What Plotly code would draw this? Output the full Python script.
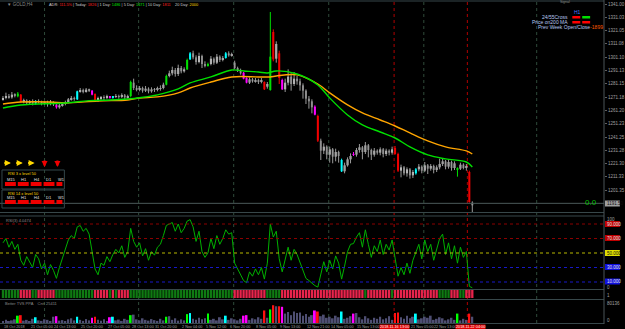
import plotly.graph_objects as go

# ---------------- data ----------------
opens = [1269.5, 1270.5, 1272.0, 1271.0, 1273.0, 1271.8, 1273.0, 1267.5, 1268.5, 1267.0,
         1268.0, 1266.5, 1268.0, 1267.5, 1266.5, 1267.0, 1266.0, 1267.5, 1265.5, 1263.5,
         1265.0, 1266.0, 1267.5, 1269.5, 1270.5, 1269.5, 1275.5, 1276.5, 1275.5, 1276.8,
         1276.0, 1273.5, 1269.0, 1270.0, 1271.0, 1270.5, 1271.5, 1270.5, 1271.5, 1272.0,
         1271.5, 1272.5, 1271.0, 1272.0, 1282.0, 1278.0, 1277.0, 1278.0, 1276.0, 1277.5,
         1275.5, 1277.0, 1276.5, 1277.5, 1278.0, 1280.5, 1287.0, 1289.0, 1291.5, 1288.5,
         1293.0, 1290.5, 1292.0, 1299.5, 1304.0, 1301.0, 1297.5, 1302.0, 1296.0, 1294.5,
         1296.0, 1300.0, 1297.0, 1301.5, 1299.0, 1300.5, 1304.0, 1302.5, 1297.0, 1293.0,
         1291.0, 1289.5, 1285.5, 1282.0, 1284.5, 1283.0, 1284.0, 1282.5, 1282.5, 1279.0,
         1276.5, 1320.0, 1300.0, 1304.0, 1284.0, 1277.0, 1282.0, 1286.5, 1281.0, 1285.0,
         1283.0, 1280.0, 1276.0, 1270.0, 1268.0, 1264.0, 1257.0, 1238.5, 1231.0, 1234.0,
         1228.0, 1232.0, 1226.5, 1230.0, 1224.0, 1215.5, 1220.0, 1224.5, 1228.5, 1228.0,
         1231.5, 1233.5, 1230.0, 1235.0, 1231.5, 1228.0, 1231.0, 1229.5, 1232.0, 1228.5,
         1231.0, 1229.5, 1233.0, 1228.5, 1216.0, 1218.5, 1214.0, 1217.0, 1212.5, 1214.0,
         1217.0, 1219.0, 1216.0, 1220.0, 1217.5, 1219.5, 1216.5, 1218.5, 1221.0, 1223.0,
         1219.0, 1222.5, 1218.0, 1216.5, 1217.5, 1220.5, 1218.0, 1215.0, 1192.0]
highs = [1272.0, 1274.5, 1273.5, 1275.0, 1274.0, 1275.0, 1273.5, 1270.0, 1269.5, 1269.0,
         1269.5, 1269.0, 1269.5, 1268.5, 1268.0, 1268.5, 1269.0, 1268.0, 1266.0, 1266.0,
         1267.5, 1268.5, 1270.5, 1272.0, 1271.5, 1276.0, 1278.0, 1277.5, 1278.0, 1277.5,
         1276.5, 1274.0, 1271.5, 1272.0, 1272.5, 1273.0, 1272.0, 1272.0, 1273.5, 1273.0,
         1274.0, 1273.5, 1273.0, 1283.5, 1285.0, 1280.0, 1279.5, 1279.0, 1279.5, 1278.5,
         1278.5, 1278.0, 1279.0, 1280.0, 1282.0, 1288.0, 1291.0, 1294.0, 1293.0, 1295.5,
         1294.5, 1293.5, 1300.0, 1305.0, 1306.0, 1302.5, 1304.5, 1303.0, 1298.0, 1297.0,
         1302.0, 1301.0, 1303.5, 1302.5, 1302.0, 1305.0, 1305.5, 1304.5, 1298.5, 1294.0,
         1292.5, 1290.0, 1286.0, 1286.0, 1285.5, 1285.5, 1285.0, 1285.5, 1283.0, 1282.5,
         1335.0, 1322.0, 1313.0, 1306.0, 1285.0, 1285.0, 1292.0, 1289.0, 1290.0, 1287.0,
         1285.0, 1281.5, 1277.0, 1272.0, 1269.5, 1265.0, 1258.0, 1240.0, 1236.5, 1235.0,
         1234.0, 1233.0, 1232.5, 1231.0, 1225.0, 1222.0, 1226.0, 1229.0, 1230.0, 1233.0,
         1236.0, 1234.5, 1237.5, 1236.0, 1232.5, 1233.0, 1232.0, 1233.5, 1233.0, 1232.5,
         1232.0, 1234.0, 1234.5, 1229.5, 1220.5, 1219.5, 1218.5, 1218.0, 1216.5, 1218.0,
         1221.0, 1220.0, 1222.5, 1221.0, 1221.0, 1220.5, 1220.0, 1225.0, 1225.0, 1224.0,
         1224.5, 1223.5, 1223.0, 1218.5, 1222.0, 1221.5, 1221.0, 1216.0, 1193.0]
lows = [1268.5, 1269.5, 1270.0, 1270.0, 1271.0, 1271.0, 1267.0, 1266.5, 1266.0, 1265.5,
        1265.0, 1265.5, 1266.5, 1265.0, 1265.5, 1264.0, 1265.0, 1264.5, 1262.5, 1262.5,
        1264.0, 1265.0, 1266.5, 1268.5, 1268.5, 1269.0, 1274.5, 1274.0, 1274.5, 1275.0,
        1272.5, 1268.5, 1267.5, 1269.0, 1269.0, 1269.5, 1270.0, 1270.0, 1270.5, 1270.0,
        1270.5, 1269.5, 1270.0, 1271.0, 1276.5, 1275.5, 1275.5, 1274.5, 1275.0, 1274.0,
        1274.5, 1275.0, 1275.5, 1276.0, 1277.0, 1280.0, 1286.0, 1287.5, 1286.5, 1287.0,
        1289.0, 1289.5, 1291.5, 1299.0, 1299.5, 1295.5, 1296.5, 1293.0, 1293.5, 1294.0,
        1295.0, 1295.5, 1296.0, 1297.5, 1298.0, 1300.0, 1301.5, 1301.5, 1292.0, 1290.0,
        1288.0, 1284.5, 1281.5, 1281.0, 1282.0, 1282.0, 1281.0, 1281.5, 1276.5, 1277.5,
        1276.0, 1298.0, 1297.0, 1281.0, 1276.5, 1275.0, 1280.0, 1276.0, 1279.5, 1280.5,
        1276.0, 1270.0, 1266.0, 1262.5, 1259.0, 1257.5, 1237.5, 1224.0, 1228.5, 1224.5,
        1222.0, 1221.5, 1223.0, 1222.0, 1215.0, 1214.0, 1219.0, 1221.5, 1227.0, 1226.5,
        1229.5, 1224.5, 1228.5, 1226.0, 1224.0, 1226.5, 1228.0, 1227.5, 1226.0, 1227.0,
        1227.5, 1228.0, 1228.0, 1215.0, 1211.0, 1212.5, 1211.5, 1210.0, 1210.5, 1213.0,
        1215.5, 1214.0, 1215.0, 1213.5, 1216.0, 1214.0, 1215.0, 1217.0, 1219.5, 1217.0,
        1217.5, 1216.0, 1216.5, 1211.5, 1216.5, 1217.0, 1216.0, 1192.0, 1184.5]
closes = [1270.5, 1272.0, 1271.0, 1273.0, 1272.0, 1273.8, 1267.5, 1268.5, 1267.0, 1268.0,
          1266.5, 1268.0, 1267.5, 1266.5, 1267.0, 1266.0, 1267.5, 1266.0, 1263.5, 1265.0,
          1266.0, 1267.5, 1269.5, 1270.5, 1270.0, 1275.5, 1276.5, 1275.5, 1276.8, 1276.0,
          1273.0, 1269.0, 1270.0, 1271.0, 1270.5, 1271.5, 1270.5, 1271.5, 1272.0, 1271.5,
          1272.5, 1271.0, 1272.0, 1282.5, 1278.0, 1277.0, 1278.0, 1276.0, 1277.5, 1275.5,
          1277.0, 1276.5, 1277.5, 1278.0, 1280.5, 1287.0, 1289.0, 1291.5, 1288.5, 1293.0,
          1290.5, 1292.0, 1299.0, 1304.0, 1301.0, 1297.5, 1302.0, 1296.0, 1295.0, 1296.0,
          1300.0, 1297.0, 1301.5, 1299.0, 1300.5, 1304.0, 1302.5, 1303.0, 1293.0, 1291.0,
          1289.0, 1285.0, 1282.0, 1284.5, 1283.0, 1284.0, 1282.5, 1283.5, 1277.0, 1281.0,
          1301.5, 1299.5, 1311.0, 1285.5, 1277.0, 1282.0, 1286.5, 1281.0, 1285.0, 1283.0,
          1280.0, 1276.0, 1270.0, 1268.0, 1263.5, 1258.0, 1238.5, 1231.0, 1234.0, 1228.0,
          1232.0, 1226.5, 1230.0, 1227.0, 1215.5, 1220.0, 1224.5, 1227.0, 1228.0, 1231.5,
          1233.5, 1230.0, 1235.0, 1231.5, 1228.0, 1231.0, 1229.5, 1232.0, 1228.5, 1231.0,
          1229.5, 1232.0, 1228.5, 1216.0, 1218.5, 1214.0, 1217.0, 1212.5, 1215.0, 1217.0,
          1219.0, 1216.0, 1220.0, 1217.5, 1219.5, 1216.5, 1218.5, 1221.0, 1223.0, 1219.0,
          1222.5, 1218.0, 1221.5, 1217.5, 1220.5, 1218.0, 1219.5, 1192.5, 1190.0]

# signal-coloured candles (index, colour code)
signal_idx = [5, 6, 11, 18, 25, 30, 31, 36, 37, 43, 55, 62, 63, 69, 75, 81, 82, 88, 90, 91,
              93, 94, 105, 106, 114, 118, 132, 133, 139, 153, 157]
signal_col = ['g', 'r', 'c', 'm', 'c', 'm', 'r', 'm', 'c', 'g', 'g', 'g', 'c', 'g', 'c', 'm', 'm', 'r', 'g', 'r',
              'r', 'm', 'm', 'r', 'c', 'm', 'r', 'r', 'c', 'g', 'r']

# moving averages (knots at candle index)
ma_green_idx = [0, 6, 21, 29, 36, 42, 46, 52, 59, 63, 70, 77, 81, 86, 89, 92, 99, 106, 110, 116,
                121, 127, 132, 137, 143, 149, 156, 158]
ma_green = [1263.0, 1265.3, 1266.8, 1268.5, 1269.0, 1269.8, 1270.7, 1272.8, 1277.3, 1281.8,
            1286.3, 1291.5, 1290.8, 1290.0, 1289.3, 1290.8, 1288.5, 1280.3, 1270.5, 1257.8,
            1250.3, 1245.0, 1240.5, 1233.8, 1227.8, 1224.8, 1222.5, 1218.8]
ma_orange_idx = [0, 6, 16, 21, 32, 42, 46, 52, 59, 63, 70, 77, 86, 90, 92, 99, 106, 110, 116, 121,
                 127, 132, 137, 143, 149, 156, 158]
ma_orange = [1266.0, 1267.5, 1267.5, 1266.8, 1268.3, 1269.0, 1270.5, 1271.3, 1274.3, 1278.0,
             1282.5, 1286.3, 1286.3, 1286.3, 1287.0, 1287.8, 1281.0, 1274.3, 1265.3, 1259.3,
             1254.0, 1249.5, 1244.3, 1238.3, 1233.8, 1230.8, 1228.5]

rsi = [64, 70, 58, 66, 55, 62, 40, 33, 45, 38,
       30, 48, 42, 28, 36, 20, 34, 26, 15, 30,
       42, 55, 68, 74, 70, 86, 88, 80, 84, 76,
       52, 28, 20, 36, 33, 45, 38, 48, 55, 50,
       60, 44, 52, 84, 66, 58, 64, 46, 56, 40,
       52, 47, 58, 62, 74, 88, 90, 92, 80, 90,
       78, 84, 94, 96, 86, 66, 80, 52, 44, 50,
       70, 56, 74, 62, 70, 82, 76, 78, 36, 28,
       22, 12, 9, 24, 18, 28, 20, 30, 14, 36,
       90, 72, 80, 42, 24, 42, 58, 40, 55, 48,
       36, 26, 15, 12, 8, 5, 3, 22, 38, 24,
       40, 28, 46, 36, 14, 32, 52, 62, 63, 72,
       78, 58, 82, 62, 44, 60, 52, 68, 48, 62,
       54, 68, 44, 18, 30, 20, 36, 22, 40, 50,
       62, 42, 68, 52, 62, 40, 56, 70, 76, 48,
       64, 42, 60, 36, 58, 44, 52, 4, 2]
rsi_levels = [90, 70, 50, 30, 10]

volume = [8000, 12000, 6000, 10000, 14000, 28000, 30000, 9000, 12000, 6000,
          16000, 22000, 10000, 8000, 14000, 12000, 7000, 24000, 26000, 9000,
          11000, 6000, 14000, 18000, 10000, 24000, 12000, 8000, 15000, 10000,
          20000, 24000, 12000, 9000, 14000, 8000, 22000, 24000, 10000, 13000,
          8000, 16000, 12000, 30000, 32000, 14000, 10000, 18000, 12000, 9000,
          15000, 11000, 8000, 16000, 10000, 24000, 26000, 12000, 18000, 9000,
          14000, 10000, 34000, 38000, 16000, 12000, 20000, 14000, 18000, 36000,
          12000, 16000, 10000, 22000, 14000, 28000, 12000, 18000, 14000, 10000,
          16000, 28000, 30000, 12000, 18000, 14000, 22000, 16000, 48000, 20000,
          52000, 68000, 64000, 64000, 62000, 36000, 42000, 30000, 44000, 38000,
          40000, 28000, 34000, 24000, 30000, 48000, 44000, 26000, 32000, 20000,
          24000, 18000, 28000, 22000, 44000, 16000, 20000, 26000, 36000, 38000,
          22000, 14000, 26000, 18000, 12000, 20000, 16000, 24000, 14000, 18000,
          26000, 12000, 38000, 40000, 22000, 16000, 28000, 18000, 24000, 36000,
          14000, 18000, 24000, 20000, 28000, 12000, 16000, 22000, 18000, 10000,
          14000, 20000, 12000, 36000, 10000, 16000, 12000, 36000, 24000]

# trend strip: run-length encoded states
strip_run_state = ['G', 'R', 'G', 'R', 'G', 'R', 'G', 'R', 'G', 'R', 'G',
                   'R', 'G', 'R', 'G', 'R', 'G', 'R', 'G', 'R', 'G', 'R']
strip_run_len = [6, 4, 2, 6, 13, 5, 1, 1, 1, 4, 35, 11, 5, 28, 1, 8, 1, 15, 4, 3, 2, 3]

day_sep = [14, 45.67, 77.67, 109.67, 141.67, 179.67]
red_sep = [131.67, 156.33]
red_sep_label_pos = [131.67, 157.3]
red_sep_labels = ['2018.11.16 13:00', '2018.11.22 04:00']

date_pos = [0, 9, 17, 26, 35, 43, 51, 60, 68, 76, 85, 93, 102, 110, 119, 137, 144.6]
date_labels = ['18 Oct 2018', '21 Oct 05:00', '24 Oct 13:00', '25 Oct 20:00', '27 Oct 05:00',
               '28 Oct 13:00', '31 Oct 20:00', '2 Nov 04:00', '5 Nov 12:00', '6 Nov 20:00',
               '8 Nov 05:00', '9 Nov 13:00', '12 Nov 21:00', '14 Nov 05:00', '15 Nov 13:00',
               '21 Nov 05:00', '22 Nov 13:00']

price_ticks = [1341.00, 1331.03, 1321.05, 1311.08, 1301.10, 1291.13, 1281.15, 1271.18,
               1261.20, 1251.23, 1241.25, 1231.28, 1221.30, 1211.33, 1201.35]
bid_price = 1191.5

# ---------------- build ----------------
FONT = 'Liberation Sans, Arial, sans-serif'
PW, PH = 610.0, 329.0


def fx(x):
    return x / PW


def fy(y):
    return 1 - y / PH


n = len(closes)
idx = list(range(n))
COL = {'g': '#00e000', 'r': '#f00000', 'c': '#00ffff', 'm': '#ff00ff'}
sig = dict(zip(signal_idx, signal_col))

body_base, body_h, body_col = [], [], []
groups = {}
for i in idx:
    o, c = opens[i], closes[i]
    body_base.append(min(o, c))
    body_h.append(max(abs(c - o), 0.45))
    if i in sig:
        body_col.append(COL[sig[i]])
        key = COL[sig[i]]
    else:
        body_col.append('#d4d4d4' if c >= o else '#7e7e7e')
        key = '#9a9a9a'
    gx, gy = groups.setdefault(key, ([], []))
    gx += [i, i, None]
    gy += [lows[i], highs[i], None]

strip_state = []
for s, k in zip(strip_run_state, strip_run_len):
    strip_state += [s] * k
strip_col = ['#0f7a12' if s == 'G' else '#e8244c' for s in strip_state]

vol_col = [{'g': '#00ff00', 'r': '#ff1010', 'c': '#00ffff', 'm': '#ff00ff'}[sig[i]] if i in sig else '#4e4e72'
           for i in idx]

fig = go.Figure()
for color, (gx, gy) in groups.items():
    fig.add_trace(go.Scatter(x=gx, y=gy, mode='lines', line=dict(color=color, width=1),
                             xaxis='x', yaxis='y', hoverinfo='skip'))
fig.add_trace(go.Bar(x=idx, y=body_h, base=body_base, width=0.68,
                     marker=dict(color=body_col, line=dict(width=0)), xaxis='x', yaxis='y'))
fig.add_trace(go.Scatter(x=ma_orange_idx, y=ma_orange, mode='lines',
                         line=dict(color='#ffa500', width=1.4, shape='spline'), xaxis='x', yaxis='y'))
fig.add_trace(go.Scatter(x=ma_green_idx, y=ma_green, mode='lines',
                         line=dict(color='#00e000', width=1.4, shape='spline'), xaxis='x', yaxis='y'))
fig.add_trace(go.Scatter(x=idx, y=rsi, mode='lines', line=dict(color='#00b000', width=1),
                         xaxis='x', yaxis='y2'))
fig.add_trace(go.Bar(x=idx, y=[1] * n, base=0, width=0.78,
                     marker=dict(color=strip_col, line=dict(width=0)), xaxis='x', yaxis='y3'))
fig.add_trace(go.Bar(x=idx, y=volume, width=0.62,
                     marker=dict(color=vol_col, line=dict(width=0)), xaxis='x', yaxis='y4'))

shapes = []
# separators
for s in day_sep:
    shapes.append(dict(type='line', xref='x', yref='paper', x0=s, x1=s, y0=fy(323), y1=fy(1),
                       line=dict(color='#2f4a3a', width=1, dash='dot'), layer='below'))
for s in red_sep:
    shapes.append(dict(type='line', xref='x', yref='paper', x0=s, x1=s, y0=fy(323), y1=fy(1),
                       line=dict(color='#b00000', width=1, dash='dot'), layer='below'))
# panel frame lines
for yy in [1, 212.5, 216, 289.5, 299.5, 323.5]:
    shapes.append(dict(type='line', xref='paper', yref='paper', x0=0, x1=1, y0=fy(yy), y1=fy(yy),
                       line=dict(color='#37474a', width=1)))
shapes.append(dict(type='line', xref='paper', yref='paper', x0=1, x1=1, y0=fy(324), y1=fy(0),
                   line=dict(color='#4a5458', width=1)))
# bid line
shapes.append(dict(type='line', xref='paper', yref='y', x0=0, x1=1, y0=bid_price, y1=bid_price,
                   line=dict(color='#4b5a5a', width=1)))
# rsi levels
lvl_col = ['#8b0000', '#8b0000', '#b8b800', '#1818c8', '#1818c8']
for lv, lc in zip(rsi_levels, lvl_col):
    shapes.append(dict(type='line', xref='paper', yref='y2', x0=0, x1=1, y0=lv, y1=lv,
                       line=dict(color=lc, width=1, dash='dot')))


def rect(x0, x1, y0, y1, fill, line=None):
    d = dict(type='rect', xref='paper', yref='paper', x0=fx(x0), x1=fx(x1), y0=fy(y1), y1=fy(y0),
             fillcolor=fill, line=dict(width=0))
    if line:
        d['line'] = dict(color=line, width=1)
        d['fillcolor'] = 'rgba(0,0,0,0)'
    return d


# left info boxes
shapes.append(rect(2, 65, 170, 189, None, '#33464a'))
shapes.append(rect(2, 65, 190, 208, None, '#33464a'))
for (a, b) in [(5, 16), (18, 29), (31, 42), (44, 55), (57, 63)]:
    shapes.append(rect(a, b, 182, 186, '#f00000'))
    shapes.append(rect(a, b, 200, 204, '#f00000'))
# legend swatches
shapes.append(rect(578, 586, 16, 18.5, '#ff0000'))
shapes.append(rect(588, 596, 16, 18.5, '#00e000'))
shapes.append(rect(578, 586, 21, 23.5, '#ff0000'))
shapes.append(rect(588, 596, 21, 23.5, '#ff0000'))
# right axis boxes
shapes.append(rect(611, 626, 200.5, 206.5, '#a0a0a0'))
box_col = ['#c00000', '#c00000', '#e0e000', '#1010e0', '#1010e0']
box_y = [224, 238, 253, 267, 281.5]
for by, bc in zip(box_y, box_col):
    shapes.append(rect(611, 626, by - 3, by + 3, bc))

ann = []


def txt(x, y, s, color, size=4.5, anchor='left', bg=None, xref='paper'):
    d = dict(xref=xref, yref='paper', x=fx(x) if xref == 'paper' else x, y=fy(y), text=s,
             showarrow=False, xanchor=anchor, yanchor='middle',
             font=dict(family=FONT, size=size, color=color), borderpad=0)
    if bg:
        d['bgcolor'] = bg
    ann.append(d)


txt(6, 4.5, '▼ GOLD,H4', '#8a8a8a', 4.5)
txt(48, 4.5, 'ADR: <span style="color:#ff2020">111.5%</span> | Today: <span style="color:#ff2020">1826</span>'
             ' | 1 Day: <span style="color:#00e000">1486</span> | 5 Day: <span style="color:#00e000">1471</span>'
             ' | 10 Day: <span style="color:#ff2020">1811</span>    20 Day: <span style="color:#ffd700">2000</span>',
    '#d0d0d0', 3.9)
txt(565, 2.5, 'Signal', '#8a8a8a', 3.5)
txt(579, 12, 'H1', '#4a78ff', 5)
txt(575, 17, '24/55Cross', '#b8c8f0', 5, 'right')
txt(575, 22, 'Price on200 MA', '#b8c8f0', 5, 'right')
txt(542, 27, 'Prev Week Open/Close<span style="color:#ff5a00">-1899</span>', '#b8c8f0', 5)
txt(590, 202, '0.0', '#00c000', 8)
txt(5, 220.5, 'RSI(3) 4.0474', '#8a8a8a', 4)
txt(4, 303.5, 'Better TVS PPA    Cnt: 25411', '#8a8a8a', 4)
txt(7, 173.5, 'RSI 3 x level 50', '#ffd700', 4)
txt(7, 193.5, 'RSI 14 x level 50', '#ffd700', 4)
for lx, lt in zip([6, 20, 33, 45, 58], ['M15', 'H1', 'H4', 'D1', 'W1']):
    txt(lx, 179, lt, '#e0e0e0', 4)
    txt(lx, 197.5, lt, '#e0e0e0', 4)
# right panel labels
txt(612, 203.5, '1191.50', '#101010', 4.5)
for by, lv, tc in zip(box_y, rsi_levels, ['#e0e0e0', '#e0e0e0', '#101010', '#e0e0e0', '#e0e0e0']):
    txt(612, by, '%d.000' % lv, tc, 4.5)
txt(612, 219.5, '100', '#a0a0a0', 4.5)
txt(612, 287, '0', '#a0a0a0', 4.5)
txt(612, 295, '1', '#a0a0a0', 4.5)
txt(612, 303, '80136', '#a0a0a0', 4.5)
txt(612, 320, '0', '#a0a0a0', 4.5)
# date labels
for p, lab in zip(date_pos, date_labels):
    txt(p, 326.5, lab, '#a0a0a0', 3.8, 'left', None, 'x')
for p, lab in zip(red_sep_label_pos, red_sep_labels):
    txt(p, 326.5, lab, '#ffffff', 3.8, 'center', '#e00000', 'x')

# arrows in the info box
for cx in [7, 19, 31]:
    ann.append(dict(xref='paper', yref='paper', x=fx(cx + 4), y=fy(163), ax=-8, ay=0, text='',
                    showarrow=True, arrowhead=2, arrowsize=0.55, arrowwidth=2.2, arrowcolor='#ffd700'))
for cx in [45, 58]:
    ann.append(dict(xref='paper', yref='paper', x=fx(cx), y=fy(167), ax=0, ay=-8, text='',
                    showarrow=True, arrowhead=2, arrowsize=0.55, arrowwidth=2.2, arrowcolor='#f00000'))

axis_common = dict(showgrid=False, zeroline=False, anchor='x')
fig.update_layout(
    width=625, height=329,
    margin=dict(l=0, r=15, t=0, b=0, pad=0),
    paper_bgcolor='#000000', plot_bgcolor='#000000',
    showlegend=False, barmode='overlay',
    xaxis=dict(domain=[0, 1], range=[-1, 202.333], showgrid=False, zeroline=False,
               showticklabels=False, ticks='', anchor='y4', rangeslider=dict(visible=False)),
    yaxis=dict(domain=[0.35562, 0.99696], range=[1185, 1343.25], side='right',
               tickmode='array', tickvals=price_ticks, tickformat='.2f', ticks='outside', ticklen=2,
               tickcolor='#606060', tickfont=dict(family=FONT, size=4.5, color='#a0a0a0'),
               **axis_common),
    yaxis2=dict(domain=[0.12082, 0.34118], range=[0, 100], showticklabels=False, ticks='',
                **axis_common),
    yaxis3=dict(domain=[0.09422, 0.11854], range=[0, 1], showticklabels=False, ticks='',
                **axis_common),
    yaxis4=dict(domain=[0.01824, 0.08815], range=[0, 88000], showticklabels=False, ticks='',
                **axis_common),
    shapes=shapes, annotations=ann,
)

fig.write_html("out.html")
